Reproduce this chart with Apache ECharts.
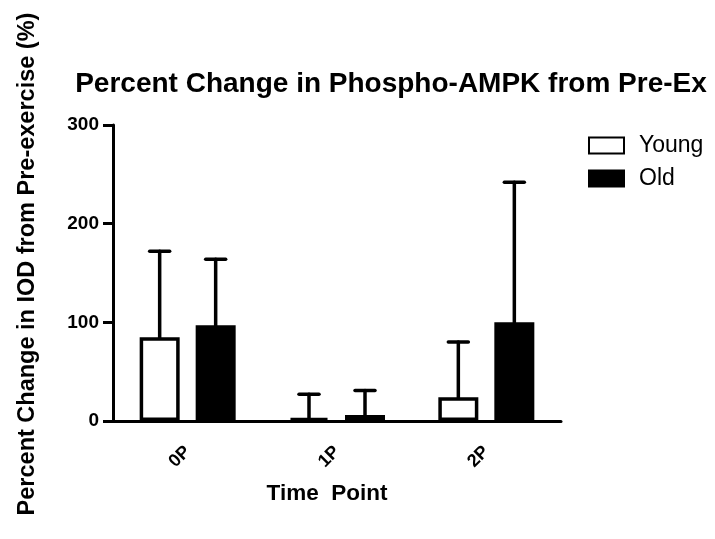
<!DOCTYPE html>
<html>
<head>
<meta charset="utf-8">
<script src="https://cdn.jsdelivr.net/npm/echarts@6/dist/echarts.min.js"></script>
<style>
  html, body { margin: 0; padding: 0; background: #fff; }
  #chart { width: 715px; height: 539px; }
</style>
</head>
<body>
<div id="chart"></div>
<script>
  var timePoints = ["0P", "1P", "2P"];
  var youngMean = [85, 3, 24];
  var youngErr = [87, 24, 56];
  var oldMean = [97, 6, 100];
  var oldErr = [67, 25, 142];
  var yTicks = [0, 100, 200, 300];

  var font = "Liberation Sans, Arial, sans-serif";
  var myChart = echarts.init(document.getElementById("chart"));

  // error bars sit on the centre of each bar (barWidth 40, gap 16 -> +/-28)
  function errorSeries(means, errs, offset) {
    var data = means.map(function (m, i) {
      return [i, m, m + errs[i]];
    });
    return {
      type: "custom",
      silent: true,
      z: 1,
      renderItem: function (params, api) {
        var lo = api.coord([api.value(0), api.value(1)]);
        var hi = api.coord([api.value(0), api.value(2)]);
        var x = lo[0] + offset;
        var style = { stroke: "#000", lineWidth: 3.5, lineCap: "round" };
        return {
          type: "group",
          children: [
            { type: "line", shape: { x1: x, y1: lo[1], x2: x, y2: hi[1] }, style: style },
            { type: "line", shape: { x1: x - 10, y1: hi[1], x2: x + 10, y2: hi[1] }, style: style }
          ]
        };
      },
      data: data
    };
  }

  var option = {
    backgroundColor: "#fff",
    animation: false,
    title: {
      text: "Percent Change in Phospho-AMPK from Pre-Ex",
      left: 386,
      textAlign: "center",
      top: 65,
      textStyle: { fontFamily: font, fontWeight: "bold", fontSize: 28, color: "#000" }
    },
    legend: {
      orient: "vertical",
      left: 588,
      top: 134,
      padding: 0,
      icon: "rect",
      itemWidth: 35,
      itemHeight: 16,
      itemGap: 10,
      data: ["Young", "Old"],
      textStyle: { fontFamily: font, fontSize: 23, color: "#000", padding: [0, 0, 0, 10] }
    },
    grid: { left: 113, top: 125, right: 154, bottom: 118 },
    xAxis: {
      type: "category",
      data: timePoints,
      name: "Time  Point",
      nameLocation: "middle",
      nameGap: 61,
      nameTextStyle: { fontFamily: font, fontWeight: "bold", fontSize: 22.5, color: "#000", padding: [0, 20, 0, 0] },
      axisLine: { lineStyle: { color: "#000", width: 3 } },
      axisTick: { alignWithLabel: true, length: 8, lineStyle: { color: "#000", width: 2 } },
      axisLabel: { rotate: 45, margin: 28, fontFamily: font, fontWeight: "bold", fontSize: 18, color: "#000" }
    },
    yAxis: {
      type: "value",
      min: yTicks[0],
      max: yTicks[yTicks.length - 1],
      interval: 100,
      name: "Percent Change in IOD from Pre-exercise (%)",
      nameLocation: "middle",
      nameGap: 73,
      nameTextStyle: { fontFamily: font, fontWeight: "bold", fontSize: 23.5, color: "#000", padding: [0, 0, 0, 18] },
      splitLine: { show: false },
      axisLine: { show: true, lineStyle: { color: "#000", width: 3 } },
      axisTick: { show: true, length: 10, lineStyle: { color: "#000", width: 3 } },
      axisLabel: { margin: 14, fontFamily: font, fontWeight: "bold", fontSize: 19, color: "#000" }
    },
    series: [
      {
        name: "Young",
        type: "bar",
        barWidth: 40,
        barGap: "40%",
        z: 2,
        itemStyle: { color: "#fff", borderColor: "#000", borderWidth: 3.5 },
        data: youngMean
      },
      {
        name: "Old",
        type: "bar",
        barWidth: 40,
        z: 2,
        itemStyle: { color: "#000", borderColor: "#000", borderWidth: 3.5 },
        data: oldMean
      },
      errorSeries(youngMean, youngErr, -28),
      errorSeries(oldMean, oldErr, 28)
    ]
  };

  myChart.setOption(option, true);

  window.onresize = function () {
    myChart.resize();
  };
</script>
</body>
</html>
